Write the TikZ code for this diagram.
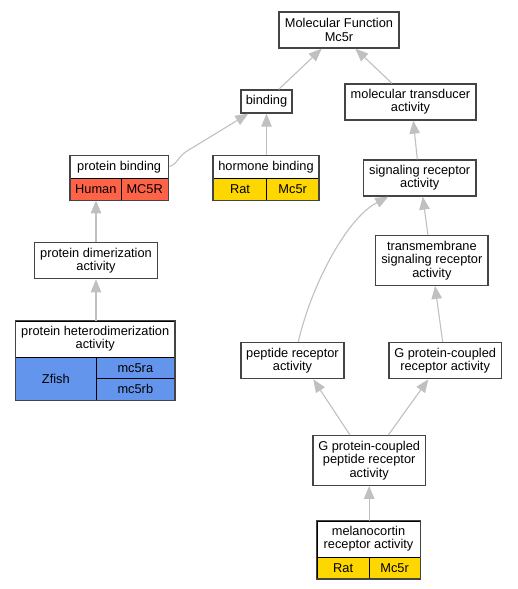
\documentclass[tikz,border=0pt]{standalone}
\usepackage{fontspec}
\setmainfont{Liberation Sans}
\usetikzlibrary{arrows.meta}
\definecolor{bordc}{HTML}{444444}
\definecolor{edgec}{HTML}{C0C0C0}
\definecolor{redc}{HTML}{FF6347}
\definecolor{yelc}{HTML}{FFD700}
\definecolor{bluc}{HTML}{6495ED}
\tikzset{
  box/.style={draw=bordc, line width=1.3pt, fill=white, inner sep=0pt, align=center,
    font=\fontsize{12.8}{13.3}\selectfont},
  cell/.style={draw=black, line width=0.8pt, inner sep=0pt, align=center,
    font=\fontsize{12.8}{13.3}\selectfont},
  outer/.style={draw=bordc, line width=1.3pt},
  edge/.style={draw=edgec, line width=1.1pt, -{Triangle[length=13pt,width=10.5pt]}},
}
\begin{document}
\begin{tikzpicture}[x=1pt,y=-1pt]
\useasboundingbox (0,0) rectangle (517,589);
% plain boxes
\node[box, minimum width=120pt, minimum height=36pt] (mf) at (339,30) {Molecular Function\\Mc5r};
\node[box, minimum width=51pt, minimum height=23pt] (binding) at (266.5,101.5) {binding};
\node[box, minimum width=131pt, minimum height=36pt] (mta) at (410.5,102) {molecular transducer\\activity};
\node[box, minimum width=112.7pt, minimum height=36pt] (sra) at (419.7,178) {signaling receptor\\activity};
\node[box, minimum width=122.6pt, minimum height=36pt] (pda) at (96,260.7) {protein dimerization\\activity};
\node[box, minimum width=112.3pt, minimum height=49.6pt] (tsra) at (431.85,260.5) {transmembrane\\signaling receptor\\activity};
\node[box, minimum width=103pt, minimum height=36pt] (pra) at (292.5,360.7) {peptide receptor\\activity};
\node[box, minimum width=112.3pt, minimum height=36pt] (gpcr) at (445.15,360.7) {G protein-coupled\\receptor activity};
\node[box, minimum width=112.3pt, minimum height=49.6pt] (gpcpra) at (369.15,460.5) {G protein-coupled\\peptide receptor\\activity};
% protein binding
\node[cell, minimum width=97.7pt, minimum height=23pt, fill=white] (pbh) at (119.15,167.2) {protein binding};
\node[cell, minimum width=51pt, minimum height=21.3pt, fill=redc] (pbhuman) at (95.8,189.35) {Human};
\node[cell, minimum width=46.7pt, minimum height=21.3pt, fill=redc] (pbgene) at (144.65,189.35) {MC5R};
\draw[outer] (pbh.north west) rectangle (pbgene.south east);
% hormone binding
\node[cell, minimum width=105.4pt, minimum height=23pt, fill=white] (hbh) at (266,167.2) {hormone binding};
\node[cell, minimum width=53.4pt, minimum height=21.3pt, fill=yelc] (hbrat) at (240,189.35) {Rat};
\node[cell, minimum width=52pt, minimum height=21.3pt, fill=yelc] (hbgene) at (292.7,189.35) {Mc5r};
\draw[outer] (hbh.north west) rectangle (hbgene.south east);
% protein heterodimerization
\node[cell, minimum width=159pt, minimum height=36pt, fill=white] (phah) at (95.2,339) {protein heterodimerization\\activity};
\node[cell, minimum width=80.3pt, minimum height=43pt, fill=bluc] (phazf) at (55.85,378.5) {Zfish};
\node[cell, minimum width=78.7pt, minimum height=21.7pt, fill=bluc] (phaa) at (135.35,367.85) {mc5ra};
\node[cell, minimum width=78.7pt, minimum height=21.3pt, fill=bluc] (phab) at (135.35,389.35) {mc5rb};
\draw[outer] (phah.north west) rectangle (phab.south east);
% melanocortin
\node[cell, minimum width=103pt, minimum height=36pt, fill=white] (mrah) at (368.5,539) {melanocortin\\receptor activity};
\node[cell, minimum width=52.3pt, minimum height=21.7pt, fill=yelc] (mrarat) at (343.15,567.85) {Rat};
\node[cell, minimum width=50.7pt, minimum height=21.7pt, fill=yelc] (mragene) at (394.65,567.85) {Mc5r};
\draw[outer] (mrah.north west) rectangle (mragene.south east);
% edges
\draw[edge] ([xshift=12.2pt]binding.north) -- ([xshift=-17.3pt]mf.south);
\draw[edge] ([xshift=-18.5pt]mta.north) -- ([xshift=16.3pt]mf.south);
\draw[edge] ([xshift=0.7pt,yshift=1pt]pbh.east) .. controls ([xshift=8pt,yshift=1pt]pbh.east) and ([xshift=10pt,yshift=12pt]pbh.east) .. ([xshift=20pt,yshift=17pt]pbh.east) -- ([xshift=-18.2pt]binding.south);
\draw[edge] (hbh.north -| binding.south) -- (binding.south);
\draw[edge] ([xshift=-2.4pt]sra.north) -- ([xshift=2.8pt]mta.south);
\draw[edge] (pda.north) -- (pda.north |- pbhuman.south);
\draw[edge] ([xshift=-3.85pt]tsra.north) -- ([xshift=3pt]sra.south);
\draw[edge] ([xshift=5.8pt]pra.north) .. controls ([xshift=17.5pt,yshift=52.7pt]pra.north) and ([xshift=52.5pt,yshift=122.7pt]pra.north) .. ([xshift=-31.4pt]sra.south);
\draw[edge] (pda.south |- phah.north) -- (pda.south);
\draw[edge] ([xshift=-2.45pt]gpcr.north) -- ([xshift=3.15pt]tsra.south);
\draw[edge] ([xshift=-19.15pt]gpcpra.north) -- ([xshift=20.8pt]pra.south);
\draw[edge] ([xshift=19.15pt]gpcpra.north) -- ([xshift=-16.85pt]gpcr.south);
\draw[edge] (gpcpra.south |- mrah.north) -- (gpcpra.south);
\end{tikzpicture}
\end{document}
